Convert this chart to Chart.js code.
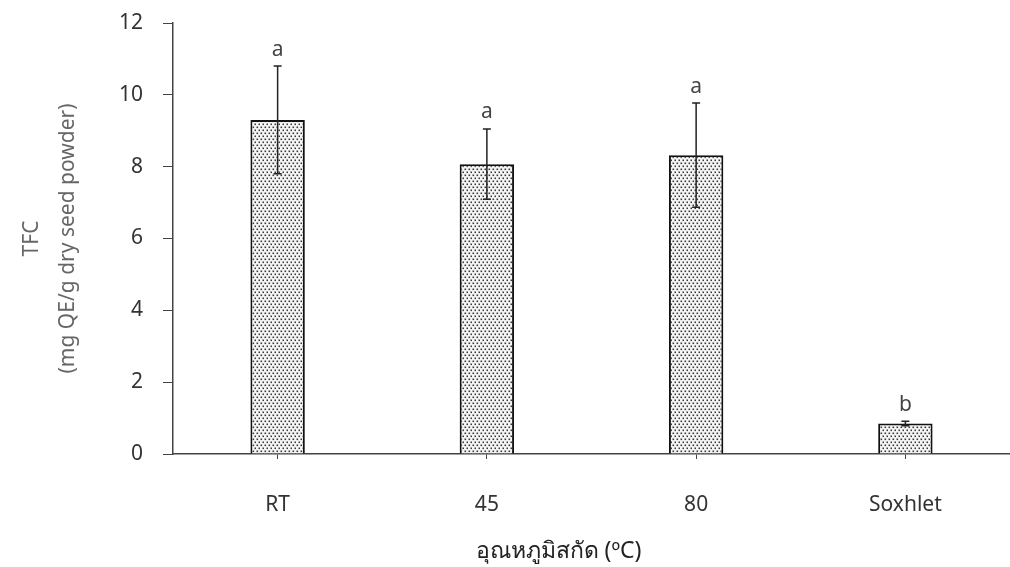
<!DOCTYPE html>
<html>
<head>
<meta charset="utf-8">
<script src="https://cdn.jsdelivr.net/npm/chart.js@4.4.1/dist/chart.umd.min.js"></script>
<style>
html,body{margin:0;padding:0;background:#fff;}
#wrap{width:1010px;height:567px;position:relative;}
</style>
</head>
<body>
<div id="wrap"><canvas id="c" width="1010" height="567"></canvas></div>
<script>
const categories = ['RT', '45', '80', 'Soxhlet'];
const tfcValues = [9.3, 8.07, 8.32, 0.85];
const tfcErrors = [1.5, 0.98, 1.45, 0.06];
const sigLetters = ['a', 'a', 'a', 'b'];
const yTicks = [0, 2, 4, 6, 8, 10, 12];
const xTitle = 'อุณหภูมิสกัด (ºC)';
const yTitle = ['TFC', '(mg QE/g dry seed powder)'];

const FONT = "'Noto Sans', 'DejaVu Sans', sans-serif";

function makePattern() {
  const t = document.createElement('canvas');
  t.width = 4; t.height = 6;
  const g = t.getContext('2d');
  g.fillStyle = '#f6f6f6';
  g.fillRect(0, 0, 4, 6);
  g.fillStyle = '#3a3a3a';
  g.fillRect(0.5, 0.5, 1.6, 1.6);
  g.fillRect(2.5, 3.5, 1.6, 1.6);
  return document.getElementById('c').getContext('2d').createPattern(t, 'repeat');
}

const errorBarPlugin = {
  id: 'errorBars',
  afterDatasetsDraw(chart) {
    const ctx = chart.ctx;
    const x = chart.scales.x, y = chart.scales.y;
    ctx.save();
    ctx.strokeStyle = '#222';
    ctx.lineWidth = 1.5;
    ctx.fillStyle = '#444';
    ctx.font = '21px ' + FONT;
    ctx.textAlign = 'center';
    ctx.textBaseline = 'bottom';
    tfcValues.forEach((v, i) => {
      const cx = x.getPixelForValue(i);
      const top = y.getPixelForValue(v + tfcErrors[i]);
      const bot = y.getPixelForValue(v - tfcErrors[i]);
      ctx.beginPath();
      ctx.moveTo(cx, top); ctx.lineTo(cx, bot);
      ctx.moveTo(cx - 4, top); ctx.lineTo(cx + 4, top);
      ctx.moveTo(cx - 4, bot); ctx.lineTo(cx + 4, bot);
      ctx.stroke();
      ctx.fillText(sigLetters[i], cx, top - 6);
    });
    ctx.restore();
  }
};

const xTitlePlugin = {
  id: 'xTitle',
  afterDraw(chart) {
    const ctx = chart.ctx;
    const a = chart.chartArea;
    ctx.save();
    ctx.fillStyle = '#222';
    ctx.font = '23px ' + FONT;
    ctx.textAlign = 'center';
    ctx.textBaseline = 'middle';
    ctx.fillText(xTitle, (a.left + a.right) / 2 - 33, chart.height - 16);
    ctx.restore();
  }
};

new Chart(document.getElementById('c'), {
  type: 'bar',
  data: {
    labels: categories,
    datasets: [{
      data: tfcValues,
      backgroundColor: makePattern(),
      borderColor: '#111',
      borderWidth: 2,
      barPercentage: 0.26,
      categoryPercentage: 1.0
    }]
  },
  options: {
    responsive: false,
    animation: false,
    layout: { padding: { top: 23, right: 0, left: 0, bottom: 0 } },
    plugins: { legend: { display: false }, tooltip: { enabled: false } },
    scales: {
      x: {
        offset: true,
        afterFit: s => { s.height = 113; s.paddingLeft = 0; s.paddingRight = 0; },
        grid: { drawOnChartArea: false, drawTicks: true, tickLength: 5, color: '#444', offset: false },
        border: { display: true, color: '#444', width: 1.5 },
        ticks: { color: '#333', font: { family: FONT, size: 21 }, padding: 33 },
        title: { display: false }
      },
      y: {
        min: 0, max: 12,
        afterFit: s => { s.width = 173; s.paddingTop = 0; s.paddingBottom = 0; },
        afterBuildTicks: s => { s.ticks = yTicks.map(v => ({ value: v })); },
        grid: { drawOnChartArea: false, drawTicks: true, tickLength: 10, color: '#444' },
        border: { display: true, color: '#444', width: 1.5 },
        ticks: { color: '#333', font: { family: FONT, size: 21 }, padding: 20 },
        title: { display: true, text: yTitle, color: '#666', font: { family: FONT, size: 21, lineHeight: 1.71 }, padding: { top: 14 } }
      }
    }
  },
  plugins: [errorBarPlugin, xTitlePlugin]
});
</script>
</body>
</html>
